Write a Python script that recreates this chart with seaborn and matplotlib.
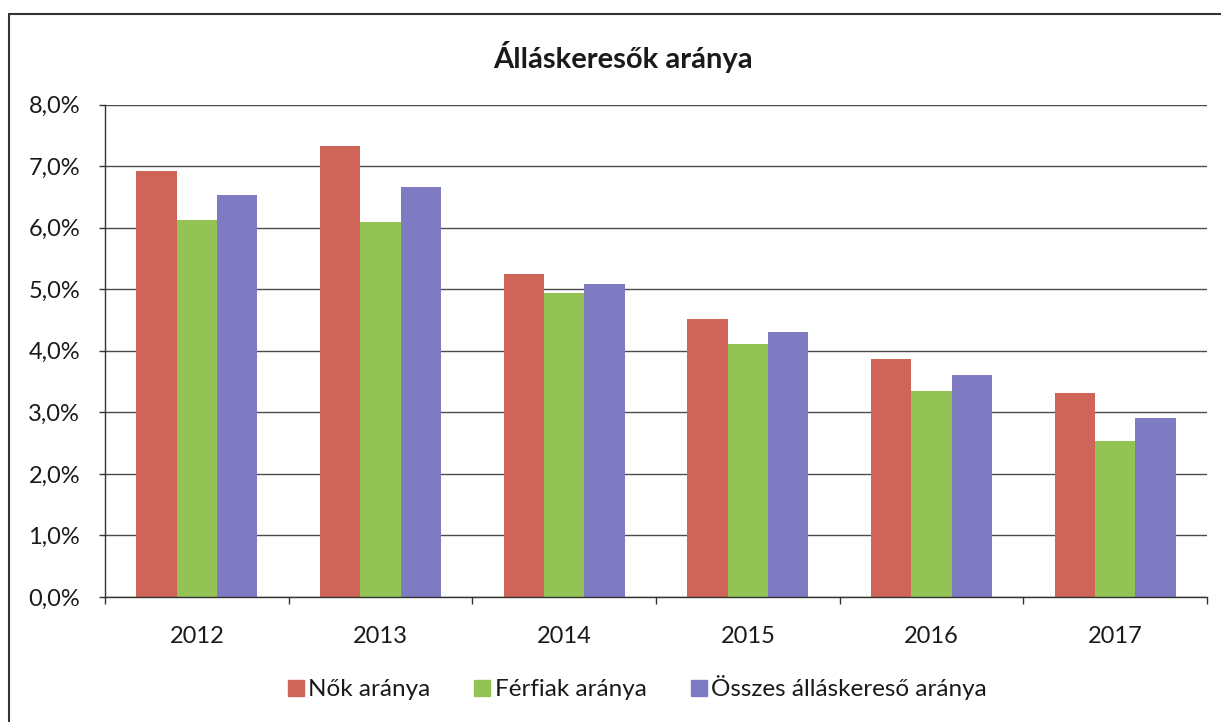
import pandas as pd
import matplotlib
matplotlib.use("Agg")
import matplotlib.pyplot as plt
import seaborn as sns
from matplotlib.lines import Line2D
from matplotlib.ticker import FuncFormatter, FixedLocator

# Data (in percent)
years = ["2012", "2013", "2014", "2015", "2016", "2017"]
nok = [6.92, 7.32, 5.24, 4.52, 3.87, 3.32]
ferfiak = [6.13, 6.09, 4.93, 4.11, 3.35, 2.53]
osszes = [6.53, 6.66, 5.08, 4.31, 3.60, 2.90]
series_names = ["Nők aránya", "Férfiak aránya", "Összes álláskereső aránya"]
colors = ["#CF6458", "#93C354", "#7F7BC2"]

df = pd.DataFrame({"year": years * 3,
                   "value": nok + ferfiak + osszes,
                   "series": [s for s in series_names for _ in years]})

sns.set_theme(style="white")
plt.rcParams["font.family"] = ["Lato", "DejaVu Sans"]

fig = plt.figure(figsize=(12.21, 7.22), dpi=100)
W, H = 1221, 722
ax = fig.add_axes([105 / W, 1 - 597 / H, (1207 - 105) / W, (597 - 104.5) / H])

sns.barplot(data=df, x="year", y="value", hue="series", palette=colors,
            width=0.66, gap=0, saturation=1, ax=ax, legend=False,
            errorbar=None, linewidth=0)

ax.set_ylim(0, 8)
ax.set_xlim(-0.5, len(years) - 0.5)
ax.set_yticks([i for i in range(9)])
ax.yaxis.set_major_formatter(FuncFormatter(lambda v, p: f"{v:.1f}%".replace(".", ",")))
ax.grid(axis="y", color="#4a4a4a", lw=1.0)
ax.set_axisbelow(True)
ax.set_xlabel("")
ax.set_ylabel("")

for s in ["top", "right"]:
    ax.spines[s].set_visible(False)
for s in ["left", "bottom"]:
    ax.spines[s].set_color("#333333")
    ax.spines[s].set_linewidth(1.0)

# Excel-style ticks between categories
ax.xaxis.set_minor_locator(FixedLocator([i - 0.5 for i in range(len(years) + 1)]))
ax.tick_params(axis="x", which="minor", bottom=True, length=5, color="#333333", width=1)
ax.tick_params(axis="x", which="major", bottom=False, labelsize=17, pad=15, colors="#1a1a1a")
ax.tick_params(axis="y", left=True, length=4, color="#333333", width=1,
               labelsize=17, pad=14, colors="#1a1a1a")

fig.text(623 / W, 1 - 57 / H, "Álláskeresők aránya", ha="center", va="center",
         fontsize=21, fontweight="bold", color="#1a1a1a")

handles = [Line2D([0], [0], marker="s", linestyle="", markersize=12,
                  markerfacecolor=c, markeredgecolor=c) for c in colors]
fig.legend(handles, series_names, loc="center", bbox_to_anchor=(637 / W, 1 - 688 / H),
           ncol=3, frameon=False, fontsize=17.5, handletextpad=0.15,
           columnspacing=1.8, handlelength=0.7, labelcolor="#1a1a1a")

# chart frame (left and top edges visible in the scan)
fig.add_artist(Line2D([9 / W, 9 / W], [0, 1 - 14 / H], transform=fig.transFigure,
                      color="#333333", lw=1.5))
fig.add_artist(Line2D([9 / W, 1], [1 - 14 / H, 1 - 14 / H], transform=fig.transFigure,
                      color="#333333", lw=1.5))

fig.savefig("out.png", dpi=100)
